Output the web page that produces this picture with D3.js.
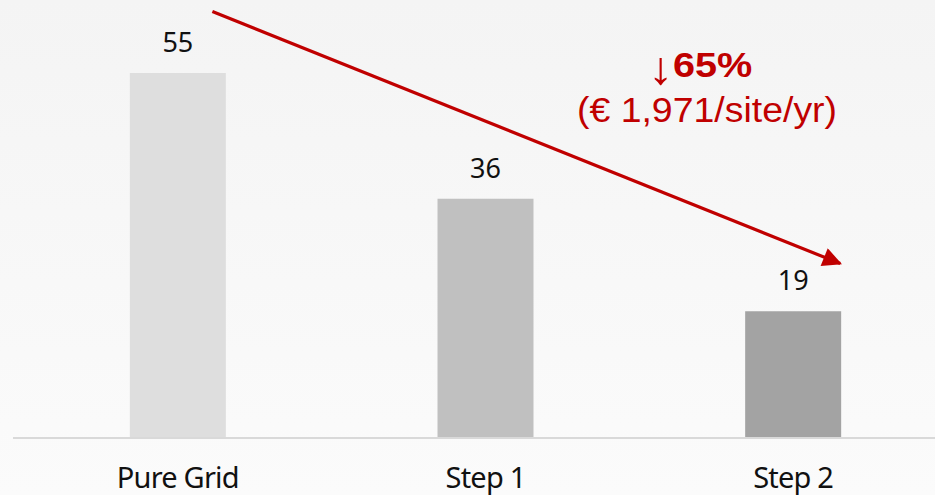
<!DOCTYPE html>
<html>
<head>
<meta charset="utf-8">
<script src="https://cdn.jsdelivr.net/npm/d3@7"></script>
<style>
  html, body { margin: 0; padding: 0; background: #f8f8f8; }
  svg { display: block; }
</style>
</head>
<body>
<div id="chart"></div>
<script>
const categories = ["Pure Grid", "Step 1", "Step 2"];
const values = [55, 36, 19];
const barColors = ["#dedede", "#c0c0c0", "#a3a3a3"];
const changeLabel = "65%";
const costLabel = "(€ 1,971/site/yr)";

const width = 935, height = 495;
const baseY = 437;

const svg = d3.select("#chart").append("svg").attr("width", width).attr("height", height);

const grad = svg.append("defs").append("linearGradient")
  .attr("id", "bg").attr("x1", 0).attr("y1", 0).attr("x2", 0).attr("y2", 1);
grad.append("stop").attr("offset", "0%").attr("stop-color", "#f4f4f4");
grad.append("stop").attr("offset", "100%").attr("stop-color", "#fbfbfb");
svg.append("rect").attr("width", width).attr("height", height).attr("fill", "url(#bg)");

const x = d3.scaleBand().domain(categories).range([24, 947]).paddingInner(0.688).paddingOuter(0.344);
const y = d3.scaleLinear().domain([0, 55]).range([baseY, 73]);

const data = categories.map((c, i) => ({ cat: c, val: values[i], color: barColors[i] }));

svg.append("g").selectAll("rect")
  .data(data)
  .join("rect")
  .attr("x", d => x(d.cat))
  .attr("y", d => y(d.val))
  .attr("width", x.bandwidth())
  .attr("height", d => y(0) - y(d.val))
  .attr("fill", d => d.color);

// baseline
svg.append("line")
  .attr("x1", 13).attr("x2", width)
  .attr("y1", y(0) + 1).attr("y2", y(0) + 1)
  .attr("stroke", "#d9d9d9").attr("stroke-width", 2);

const font = "'Noto Sans', 'Open Sans', sans-serif";

svg.append("g").selectAll("text")
  .data(data)
  .join("text")
  .attr("x", d => x(d.cat) + x.bandwidth() / 2)
  .attr("y", d => y(d.val) - 21)
  .attr("text-anchor", "middle")
  .attr("font-family", font)
  .attr("font-size", 27)
  .attr("fill", "#111")
  .text(d => d.val);

svg.append("g").selectAll("text")
  .data(categories)
  .join("text")
  .attr("x", d => x(d) + x.bandwidth() / 2)
  .attr("y", 488)
  .attr("text-anchor", "middle")
  .attr("font-family", font)
  .attr("font-size", 29)
  .attr("letter-spacing", -0.8)
  .attr("fill", "#111")
  .text(d => d);

// trend arrow, anchored in data coordinates
const red = "#c00000";
svg.append("defs").append("marker")
  .attr("id", "head").attr("viewBox", "0 0 10 10")
  .attr("refX", 9).attr("refY", 5)
  .attr("markerWidth", 7).attr("markerHeight", 6)
  .attr("markerUnits", "strokeWidth")
  .attr("orient", "auto")
  .append("path").attr("d", "M0,0 L10,5 L0,10 z").attr("fill", red);

svg.append("line")
  .attr("x1", x("Pure Grid") + x.bandwidth() * 0.86)
  .attr("y1", y(64.3))
  .attr("x2", x("Step 2") + x.bandwidth() * 0.99)
  .attr("y2", y(26.2))
  .attr("stroke", red).attr("stroke-width", 3.2)
  .attr("marker-end", "url(#head)");

const arial = "'Liberation Sans', Arial, sans-serif";

const note = svg.append("text")
  .attr("transform", "translate(700,77) scale(1.1,1)")
  .attr("text-anchor", "middle")
  .attr("font-family", arial)
  .attr("fill", red);
note.append("tspan").attr("font-size", 46).attr("font-weight", "normal").attr("dy", 7).text("↓");
note.append("tspan").attr("font-size", 36).attr("font-weight", "bold").attr("dy", -7).text(changeLabel);

svg.append("text")
  .attr("transform", "translate(707,122) scale(1.07,1)")
  .attr("text-anchor", "middle")
  .attr("font-family", arial)
  .attr("font-size", 35)
  .attr("fill", red)
  .text(costLabel);
</script>
</body>
</html>
